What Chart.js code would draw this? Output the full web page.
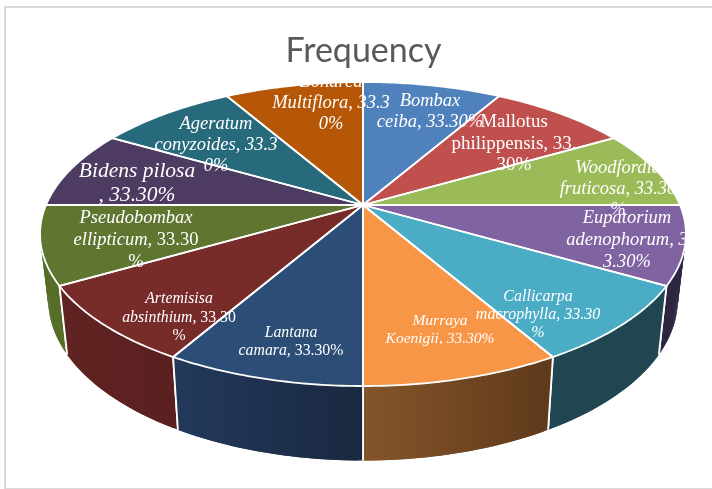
<!DOCTYPE html>
<html lang="en">
<head>
    <meta charset="UTF-8">
    <title>Frequency</title>
    <script src="https://cdn.jsdelivr.net/npm/chart.js"></script>
    <style>
        html, body { margin: 0; padding: 0; background: #fff; overflow: hidden; }
        #frame {
            position: absolute; left: 4px; top: 6px; width: 720px; height: 480px;
            border: 2px solid #d9d9d9;
        }
        #chart { position: absolute; left: 0; top: 0; }
    </style>
</head>
<body>
    <div id="frame"></div>
    <canvas id="chart" width="712" height="489"></canvas>

    <script>
        const categories = ['Bombax ceiba', 'Mallotus philippensis', 'Woodfordia fruticosa', 'Eupatorium adenophorum',
            'Callicarpa macrophylla', 'Murraya Koenigii', 'Lantana camara', 'Artemisisa absinthium',
            'Pseudobombax ellipticum', 'Bidens pilosa', 'Ageratum conyzoides', 'Bonarea Multiflora'];
        const frequency = [33.3, 33.3, 33.3, 33.3, 33.3, 33.3, 33.3, 33.3, 33.3, 33.3, 33.3, 33.3];

        const topColors = ['#4f81bd', '#c0504d', '#9bbb59', '#8064a2', '#4bacc6', '#f79646',
            '#2c4d75', '#772c2a', '#5f7530', '#4d3b62', '#276a7c', '#b65708'];
        const sideLeft = ['#2f4d71', '#73302e', '#5d7035', '#2e2540', '#1f4651', '#85552a',
            '#23395a', '#5f2321', '#566d27', '#2e2340', '#173f4a', '#6d3405'];
        const sideRight = ['#2f4d71', '#73302e', '#5d7035', '#2e2540', '#1f4651', '#5f3a1b',
            '#1a2840', '#5a201f', '#566d27', '#2e2340', '#173f4a', '#6d3405'];

        // wrapped the way the original labels wrap
        const labelLines = [
            ['Bombax', 'ceiba, 33.30%'],
            ['Mallotus', 'philippensis, 33.', '30%'],
            ['Woodfordia', 'fruticosa, 33.30', '%'],
            ['Eupatorium', 'adenophorum, 3', '3.30%'],
            ['Callicarpa', 'macrophylla, 33.30', '%'],
            ['Murraya', 'Koenigii, 33.30%'],
            ['Lantana', 'camara, 33.30%'],
            ['Artemisisa', 'absinthium, 33.30', '%'],
            ['Pseudobombax', 'ellipticum, 33.30', '%'],
            ['Bidens pilosa', ', 33.30%'],
            ['Ageratum', 'conyzoides, 33.3', '0%'],
            ['Bonarea', 'Multiflora, 33.3', '0%']
        ];
        const labelX = [430, 514, 618, 627, 538, 440, 291, 179, 136, 137, 216, 331];
        const labelY = [106, 127, 173, 223, 301, 325, 337, 303, 223, 177, 129, 87];
        const labelGap = [21, 21.5, 21, 22, 18, 18, 18, 18.5, 22, 24, 21, 21];
        const labelSize = [18.5, 19, 18.5, 18.5, 16, 15.5, 15.8, 15.8, 18.5, 21.5, 18.5, 18.5];
        // 0 = all italic, 1 = name italic and numbers upright, 2 = all upright
        const labelStyle = [0, 2, 0, 0, 0, 0, 1, 1, 1, 0, 0, 0];

        // perspective of the pie: top face and bottom rim
        const cx = 363, persp = 0.1908;
        const topFace = { rx: 317, ry: 146.5, y0: 205 };
        const bottomRim = { rx: 309, ry: 155, y0: 269 };

        function project(angle, face) {
            const u = Math.sin(angle), v = -Math.cos(angle);
            const w = 1 - persp * v;
            return [cx + face.rx * u / w, face.y0 + face.ry * v / w];
        }

        function rimPath(ctx, a0, a1, face, moveFirst) {
            const steps = 40;
            for (let i = 0; i <= steps; i++) {
                const p = project(a0 + (a1 - a0) * i / steps, face);
                if (i === 0 && moveFirst) ctx.moveTo(p[0], p[1]);
                else ctx.lineTo(p[0], p[1]);
            }
        }

        function drawSides(ctx, arcs) {
            // back to front
            const order = arcs.map((a, i) => i).sort((i, j) =>
                -Math.cos(arcs[i].mid) - -Math.cos(arcs[j].mid));
            order.forEach(i => {
                const a = arcs[i];
                const pA = project(a.start, bottomRim), pB = project(a.end, bottomRim);
                const grad = ctx.createLinearGradient(Math.min(pA[0], pB[0]), 0, Math.max(pA[0], pB[0]), 0);
                grad.addColorStop(0, sideLeft[i]);
                grad.addColorStop(1, sideRight[i]);
                ctx.fillStyle = grad;
                // overlapping strips, one polygon would leave out the bulge at the sides
                const steps = 40;
                for (let s = 0; s < steps; s++) {
                    const a0 = a.start + (a.end - a.start) * s / steps;
                    const a1 = a.start + (a.end - a.start) * Math.min(s + 2, steps) / steps;
                    const t0 = project(a0, topFace), t1 = project(a1, topFace);
                    const b0 = project(a0, bottomRim), b1 = project(a1, bottomRim);
                    ctx.beginPath();
                    ctx.moveTo(t0[0], t0[1]);
                    ctx.lineTo(t1[0], t1[1]);
                    ctx.lineTo(b1[0], b1[1]);
                    ctx.lineTo(b0[0], b0[1]);
                    ctx.closePath();
                    ctx.fill();
                }
                // white edges between the side walls
                ctx.strokeStyle = '#ffffff';
                ctx.lineWidth = 1.8;
                [a.start, a.end].forEach(e => {
                    const t = project(e, topFace), b = project(e, bottomRim);
                    ctx.beginPath();
                    ctx.moveTo(t[0], t[1]);
                    ctx.lineTo(b[0], b[1]);
                    ctx.stroke();
                });
            });
        }

        function topPath(ctx) {
            ctx.beginPath();
            rimPath(ctx, 0, Math.PI * 2, topFace, true);
            ctx.closePath();
        }

        function drawTop(ctx, arcs) {
            arcs.forEach((a, i) => {
                ctx.beginPath();
                ctx.moveTo(cx, topFace.y0);
                rimPath(ctx, a.start, a.end, topFace, false);
                ctx.closePath();
                ctx.fillStyle = topColors[i];
                ctx.fill();
            });
            ctx.strokeStyle = '#ffffff';
            ctx.lineWidth = 1.8;
            arcs.forEach(a => {
                ctx.beginPath();
                ctx.moveTo(cx, topFace.y0);
                rimPath(ctx, a.start, a.end, topFace, false);
                ctx.closePath();
                ctx.stroke();
            });
        }

        function drawRuns(ctx, text, x, y, size, style) {
            const italic = 'italic ' + size + 'px "Liberation Serif"';
            const plain = size + 'px "Liberation Serif"';
            let runs;
            if (style === 2) runs = [[text, plain]];
            else if (style === 0) runs = [[text, italic]];
            else {
                const cut = text.search(/[0-9%]/);
                if (cut < 0) runs = [[text, italic]];
                else runs = [[text.slice(0, cut), italic], [text.slice(cut), plain]];
            }
            let total = 0;
            runs.forEach(r => { ctx.font = r[1]; total += ctx.measureText(r[0]).width; });
            let left = x - total / 2;
            runs.forEach(r => {
                ctx.font = r[1];
                ctx.fillText(r[0], left, y);
                left += ctx.measureText(r[0]).width;
            });
        }

        function drawLabels(ctx) {
            ctx.save();
            topPath(ctx);
            ctx.clip();
            ctx.fillStyle = '#ffffff';
            ctx.textAlign = 'left';
            ctx.textBaseline = 'alphabetic';
            labelLines.forEach((lines, i) => {
                lines.forEach((line, n) => {
                    drawRuns(ctx, line, labelX[i], labelY[i] + n * labelGap[i], labelSize[i], labelStyle[i]);
                });
            });
            ctx.restore();
        }

        // the angles come from the pie controller, only the drawing is tilted
        const tiltedPie = {
            id: 'tiltedPie',
            beforeDatasetDraw(chart, args) {
                const arcs = chart.getDatasetMeta(args.index).data.map(el => ({
                    start: el.startAngle + Math.PI / 2,
                    end: el.endAngle + Math.PI / 2,
                    mid: (el.startAngle + el.endAngle) / 2 + Math.PI / 2
                }));
                const ctx = chart.ctx;
                ctx.save();
                drawSides(ctx, arcs);
                drawTop(ctx, arcs);
                drawLabels(ctx);
                ctx.restore();
                return false;
            }
        };

        new Chart(document.getElementById('chart'), {
            type: 'pie',
            data: {
                labels: categories,
                datasets: [{ label: 'Frequency', data: frequency, backgroundColor: topColors }]
            },
            options: {
                responsive: false,
                animation: false,
                layout: { padding: { left: 15, top: 31 } },
                plugins: {
                    legend: { display: false },
                    tooltip: { enabled: false },
                    title: {
                        display: true,
                        text: 'Frequency',
                        color: '#595959',
                        font: { family: 'Lato', size: 34, weight: 'normal' },
                        padding: 0
                    }
                }
            },
            plugins: [tiltedPie]
        });
    </script>
</body>
</html>
